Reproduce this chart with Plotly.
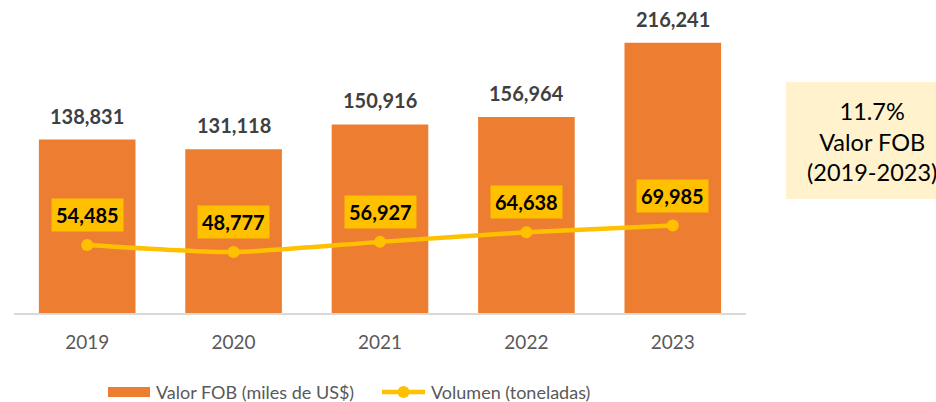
import plotly.graph_objects as go

# Data
years = ["2019", "2020", "2021", "2022", "2023"]
valor_fob = [138831, 131118, 150916, 156964, 216241]      # miles de US$
volumen = [54485, 48777, 56927, 64638, 69985]             # toneladas
bar_name = "Valor FOB (miles de US$)"
line_name = "Volumen (toneladas)"
growth_text = "11.7%<br>Valor FOB<br>(2019-2023)"

# Colours / fonts
ORANGE = "#ED7D31"
GOLD = "#FFC000"
FONT = "Lato"

W, H = 936, 402
L, R, T, B = 14, 190, 10, 89
PW, PH = W - L - R, H - T - B


def px_x(px):
    return (px - L) / PW


def px_y(py):
    return (H - B - py) / PH


fig = go.Figure()

fig.add_trace(go.Bar(
    x=years, y=valor_fob, name=bar_name,
    marker=dict(color=ORANGE, line=dict(width=0)),
    showlegend=False,
))

fig.add_trace(go.Scatter(
    x=years, y=volumen, name=line_name, mode="lines+markers",
    line=dict(color=GOLD, width=4.5, shape="spline", smoothing=0.6),
    marker=dict(color=GOLD, size=12),
    showlegend=False,
))

annotations = []
# On a category axis, annotation positions are category indices
for i, v in enumerate(valor_fob):
    annotations.append(dict(
        x=i, y=v, xref="x", yref="y", text=f"{v:,}", showarrow=False,
        yanchor="middle", yshift=24,
        font=dict(family=FONT, size=20, color="#404040", weight="bold"),
    ))
for i, v in enumerate(volumen):
    annotations.append(dict(
        x=i, y=v, xref="x", yref="y", text=f"{v:,}", showarrow=False,
        yanchor="middle", yshift=30, bgcolor=GOLD, borderpad=4,
        font=dict(family=FONT, size=20, color="#000000", weight="bold"),
    ))

# Growth note
annotations.append(dict(
    x=px_x(872), y=px_y(141), xref="paper", yref="paper",
    text=growth_text, showarrow=False, align="center",
    xanchor="center", yanchor="middle",
    font=dict(family=FONT, size=23.5, color="#000000"),
))

# Custom legend texts
legend_font = dict(family=FONT, size=18, color="#595959")
annotations.append(dict(
    x=px_x(154), y=px_y(392), xref="paper", yref="paper", text=bar_name,
    showarrow=False, xanchor="left", yanchor="middle", font=legend_font,
))
annotations.append(dict(
    x=px_x(429), y=px_y(392), xref="paper", yref="paper", text=line_name,
    showarrow=False, xanchor="left", yanchor="middle", font=legend_font,
))

shapes = [
    # growth note box
    dict(type="rect", xref="paper", yref="paper",
         x0=px_x(786), x1=px_x(962), y0=px_y(199), y1=px_y(82),
         fillcolor="#FFF2CC", line=dict(width=0), layer="below"),
    # legend swatch: bars
    dict(type="rect", xref="paper", yref="paper",
         x0=px_x(108), x1=px_x(150), y0=px_y(397), y1=px_y(387),
         fillcolor=ORANGE, line=dict(width=0)),
    # legend swatch: line
    dict(type="line", xref="paper", yref="paper",
         x0=px_x(382), x1=px_x(425), y0=px_y(392), y1=px_y(392),
         line=dict(color=GOLD, width=4.5)),
    dict(type="circle", xref="paper", yref="paper",
         x0=px_x(397.5), x1=px_x(409.5), y0=px_y(398), y1=px_y(386),
         fillcolor=GOLD, line=dict(width=0)),
]

fig.update_layout(
    width=W, height=H,
    margin=dict(l=L, r=R, t=T, b=B),
    paper_bgcolor="white", plot_bgcolor="white",
    bargap=0.34,
    showlegend=False,
    annotations=annotations,
    shapes=shapes,
    font=dict(family=FONT),
)
fig.update_xaxes(
    type="category", range=[-0.5, 4.5],
    showline=True, linecolor="#D9D9D9", linewidth=1.5,
    showgrid=False, ticks="", ticklabelstandoff=11,
    tickfont=dict(family=FONT, size=19, color="#595959"),
)
fig.update_yaxes(
    range=[0, 242500], visible=False, showgrid=False, zeroline=False,
)

fig.write_html("out.html")
